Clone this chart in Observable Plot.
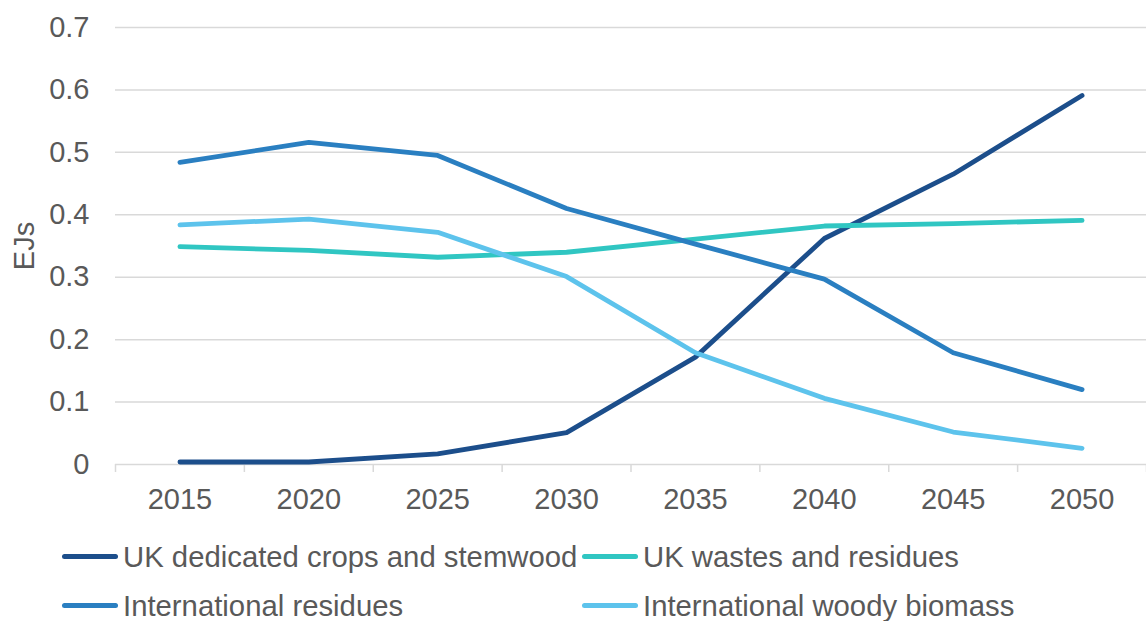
<!DOCTYPE html>
<html>
<head>
<meta charset="utf-8">
<script src="https://cdn.jsdelivr.net/npm/d3@7"></script>
<script src="https://cdn.jsdelivr.net/npm/@observablehq/plot@0.6"></script>
<style>
  html, body { margin: 0; padding: 0; background: #fff; }
  body { width: 1146px; height: 621px; overflow: hidden; font-family: "Liberation Sans", Arial, sans-serif; color: #595959; }
  #legend { display: grid; grid-template-columns: 520px 520px; margin-left: 62px; margin-top: 2px; }
  .item { display: flex; align-items: center; height: 49px; font-size: 29.3px; white-space: nowrap; }
  .swatch { width: 56px; height: 5.5px; border-radius: 3px; margin-right: 5px; flex: none; }
</style>
</head>
<body>
<div id="chart"></div>
<div id="legend"></div>
<script>
// Bioenergy resource availability (EJ) by source, 2015–2050
const years = [2015, 2020, 2025, 2030, 2035, 2040, 2045, 2050];
const seriesNames = [
  "UK dedicated crops and stemwood",
  "UK wastes and residues",
  "International residues",
  "International woody biomass"
];
const seriesColors = ["#1c4e8b", "#30c6c2", "#2a7fc1", "#5dc3ec"];
const ukCrops      = [0.004, 0.004, 0.017, 0.051, 0.172, 0.362, 0.465, 0.591];
const ukWastes     = [0.349, 0.343, 0.332, 0.340, 0.361, 0.382, 0.386, 0.391];
const intlResidues = [0.484, 0.516, 0.495, 0.410, 0.353, 0.297, 0.179, 0.120];
const intlWoody    = [0.384, 0.393, 0.372, 0.301, 0.179, 0.106, 0.052, 0.026];
const yTicks = [0, 0.1, 0.2, 0.3, 0.4, 0.5, 0.6, 0.7];

const seriesValues = [ukCrops, ukWastes, intlResidues, intlWoody];
const rows = seriesNames.flatMap((name, i) =>
  years.map((year, j) => ({series: name, year, value: seriesValues[i][j]}))
);

// category boundaries for the small x-axis tick marks
const boundaries = d3.range(years.length + 1).map(i => years[0] - 2.5 + 5 * i);

const chart = Plot.plot({
  width: 1146,
  height: 530,
  marginLeft: 115,
  marginRight: 0,
  marginTop: 27,
  marginBottom: 66,
  style: {fontFamily: "'Liberation Sans', Arial, sans-serif", fontSize: "29px", color: "#595959", background: "#fff"},
  x: {type: "linear", domain: [boundaries[0], boundaries[boundaries.length - 1]]},
  y: {domain: [0, 0.7]},
  color: {domain: seriesNames, range: seriesColors},
  marks: [
    Plot.gridY(yTicks, {stroke: "#d9d9d9", strokeOpacity: 1, strokeWidth: 1.5}),
    Plot.axisX(boundaries, {tickSize: 8, stroke: "#d9d9d9", strokeWidth: 1.5, tickFormat: () => "", label: null}),
    Plot.axisX(years, {tickSize: 0, tickPadding: 24, tickFormat: d => String(d), label: null, fontSize: 29}),
    Plot.axisY(yTicks, {
      tickSize: 0, tickPadding: 26, tickFormat: d => String(d), fontSize: 29,
      label: "EJs", labelAnchor: "center", labelArrow: "none", labelOffset: 102
    }),
    Plot.line(rows, {
      x: "year", y: "value", z: "series", stroke: "series",
      strokeWidth: 4.8, strokeLinecap: "round", strokeLinejoin: "round"
    })
  ]
});
document.getElementById("chart").appendChild(chart);

// legend, in reading order across two columns
const legend = d3.select("#legend");
seriesNames.forEach((name, i) => {
  const item = legend.append("div").attr("class", "item");
  item.append("span").attr("class", "swatch").style("background", seriesColors[i]);
  item.append("span").text(name);
});
</script>
</body>
</html>
